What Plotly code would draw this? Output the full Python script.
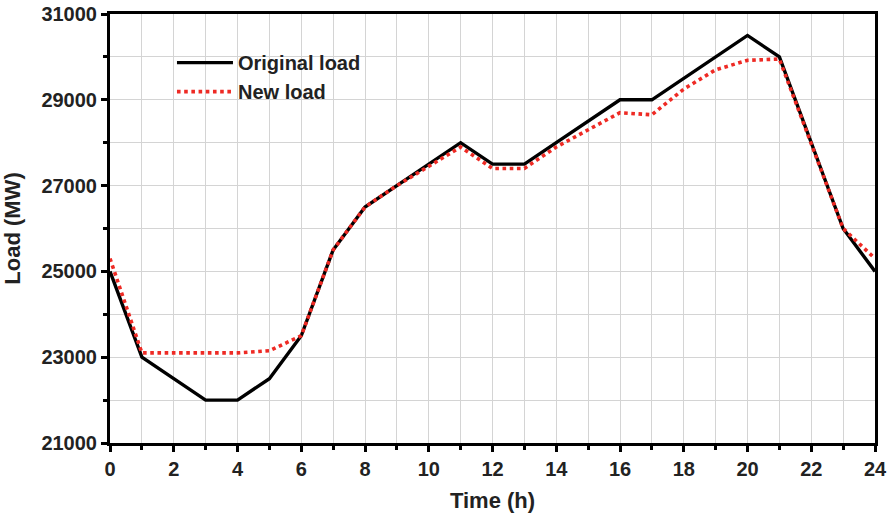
import plotly.graph_objects as go

hours = list(range(25))
original_load = [25000, 23000, 22500, 22000, 22000, 22500, 23500, 25500, 26500, 27000,
                 27500, 28000, 27500, 27500, 28000, 28500, 29000, 29000, 29500, 30000,
                 30500, 30000, 28000, 26000, 25000]
new_load = [25300, 23100, 23100, 23100, 23100, 23150, 23500, 25500, 26500, 27000,
            27450, 27900, 27400, 27400, 27900, 28300, 28700, 28650, 29250, 29700,
            29920, 29950, 28000, 26000, 25300]
x_ticks = list(range(0, 25, 2))
y_ticks = [21000, 23000, 25000, 27000, 29000, 31000]

font_family = "Liberation Sans, Arial, sans-serif"
txt = "#222"

fig = go.Figure()
fig.add_trace(go.Scatter(x=hours, y=original_load, mode="lines", name="Original load",
                         line=dict(color="black", width=3.4)))
fig.add_trace(go.Scatter(x=hours, y=new_load, mode="lines", name="New load",
                         line=dict(color="#ee2a24", width=3.6, dash="dot")))

axis_common = dict(
    showline=True, linewidth=3, linecolor="black", mirror=True,
    ticks="outside", ticklen=6, tickwidth=3, tickcolor="black",
    showgrid=True, gridcolor="#d4d4d4", gridwidth=1, zeroline=False,
    automargin=False, tickformat="d",
    tickfont=dict(family=font_family, size=20, color=txt, weight="bold"),
)
minor_common = dict(ticks="outside", ticklen=4, tickwidth=3, tickcolor="black",
                    showgrid=True, gridcolor="#d4d4d4", gridwidth=1)

fig.update_layout(
    width=890, height=513,
    margin=dict(l=110, r=15, t=14, b=70),
    paper_bgcolor="white", plot_bgcolor="white",
    font=dict(family=font_family, color=txt),
    showlegend=True,
    legend=dict(x=0.081, y=0.932, xanchor="left", yanchor="top",
                bgcolor="rgba(255,255,255,0)",
                font=dict(family=font_family, size=20, color=txt, weight="bold"),
                tracegroupgap=0, itemwidth=56),
    xaxis=dict(range=[0, 24], tickmode="array", tickvals=x_ticks,
               minor=dict(dtick=1, tick0=0, **minor_common),
               title=dict(text="Time (h)", font=dict(family=font_family, size=22, color=txt, weight="bold")),
               **axis_common),
    yaxis=dict(range=[21000, 31000], tickmode="array", tickvals=y_ticks,
               minor=dict(dtick=1000, tick0=21000, **minor_common),
               title=dict(text="Load (MW)", font=dict(family=font_family, size=22, color=txt, weight="bold")),
               **axis_common),
)

fig.write_html("out.html")
